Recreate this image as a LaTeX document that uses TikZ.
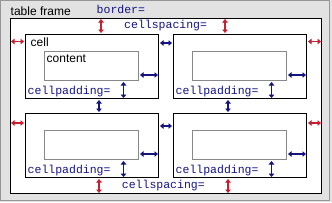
\documentclass[tikz,border=0pt]{standalone}
\usepackage{fontspec}
\setmainfont{Liberation Sans}
\setmonofont{Liberation Mono}
\usetikzlibrary{arrows.meta}
\definecolor{tfred}{RGB}{200,30,50}
\definecolor{tfblue}{RGB}{20,20,128}
\definecolor{tfgray}{RGB}{136,136,136}
\definecolor{tfpanel}{RGB}{226,226,226}
\definecolor{tfedge}{RGB}{150,150,150}

\begin{document}
\begin{tikzpicture}[x=1pt, y=-1pt,
  framebox/.style={draw=black, fill=white, line width=1pt, minimum width=311pt, minimum height=175pt, inner sep=0pt, anchor=north west},
  cellbox/.style={draw=black, fill=white, line width=1pt, minimum width=133pt, minimum height=64pt, inner sep=0pt, anchor=north west},
  contbox/.style={draw=tfgray, fill=white, line width=1pt, minimum width=94pt, minimum height=29pt, inner sep=0pt, anchor=north west},
  lbl/.style={font=\fontsize{12}{14}\selectfont, inner sep=0pt, anchor=base west},
  attr/.style={font=\ttfamily\fontsize{11.5}{14}\selectfont, text=tfblue, inner sep=0pt, anchor=base west},
  spc/.style={{Triangle[length=3.5pt,width=5.5pt]}-{Triangle[length=3.5pt,width=5.5pt]}, line width=1.4pt, shorten <=1pt, shorten >=1pt, tfred},
  pad/.style={{Triangle[length=3.5pt,width=5.5pt]}-{Triangle[length=3.5pt,width=5.5pt]}, line width=1.4pt, shorten <=1pt, shorten >=1pt, tfblue}
]
  % panel
  \useasboundingbox (0,0) rectangle (332,202);
  \fill[tfpanel] (0,0) rectangle (332,202);
  \draw[tfedge] (0.5,0.5) rectangle (329,200.5);

  % table frame
  \node[framebox] (frame) at (10,18) {};
  \node[lbl] (title) at (10.5,15) {table frame};
  \node[attr] (border) at (96.5,13.5) {border=};

  % cells and their content
  \foreach \n/\x/\y in {1/25/34, 2/173/34, 3/25/113, 4/173/113} {
    \node[cellbox] (cell\n) at (\x,\y) {};
    \node[contbox] (cont\n) at (\x+19,\y+17) {};
    \node[attr] (padtxt\n) at ([xshift=2.5pt, yshift=4.5pt]cell\n.south west) {cellpadding=};
    % padding arrows
    \draw[pad] ([yshift=6pt]cont\n.south east) -- ([yshift=6pt]cont\n.south east -| cell\n.east);
    \draw[pad] ([xshift=-15.5pt]cont\n.south east) -- ([xshift=-15.5pt]cont\n.south east |- cell\n.south);
  }
  \node[lbl] (celltxt) at (30.5,46.7) {cell};
  \node[lbl] (conttxt) at (46.5,62) {content};

  % spacing labels
  \node[attr] (spctop) at (124,28.3) {cellspacing=};
  \node[attr] (spcbot) at (121.7,188.3) {cellspacing=};

  % spacing between frame and cells
  \draw[spc] (frame.north -| 101,0) -- (cell1.north -| 101,0);
  \draw[spc] (frame.north -| 225,0) -- (cell2.north -| 225,0);
  \draw[spc] (cell3.south -| 99,0) -- (frame.south -| 99,0);
  \draw[spc] (cell4.south -| 228,0) -- (frame.south -| 228,0);
  \draw[spc] (frame.west |- 0,41.5) -- (cell1.west |- 0,41.5);
  \draw[spc] (frame.west |- 0,123) -- (cell3.west |- 0,123);
  \draw[spc] (cell2.east |- 0,41.5) -- (frame.east |- 0,41.5);
  \draw[spc] (cell4.east |- 0,123) -- (frame.east |- 0,123);

  % spacing between cells
  \draw[pad] (cell1.east |- 0,43) -- (cell2.west |- 0,43);
  \draw[pad] (cell3.east |- 0,126) -- (cell4.west |- 0,126);
  \draw[pad] (cell1.south -| 99,0) -- (cell3.north -| 99,0);
  \draw[pad] (cell2.south -| 228,0) -- (cell4.north -| 228,0);
\end{tikzpicture}
\end{document}
